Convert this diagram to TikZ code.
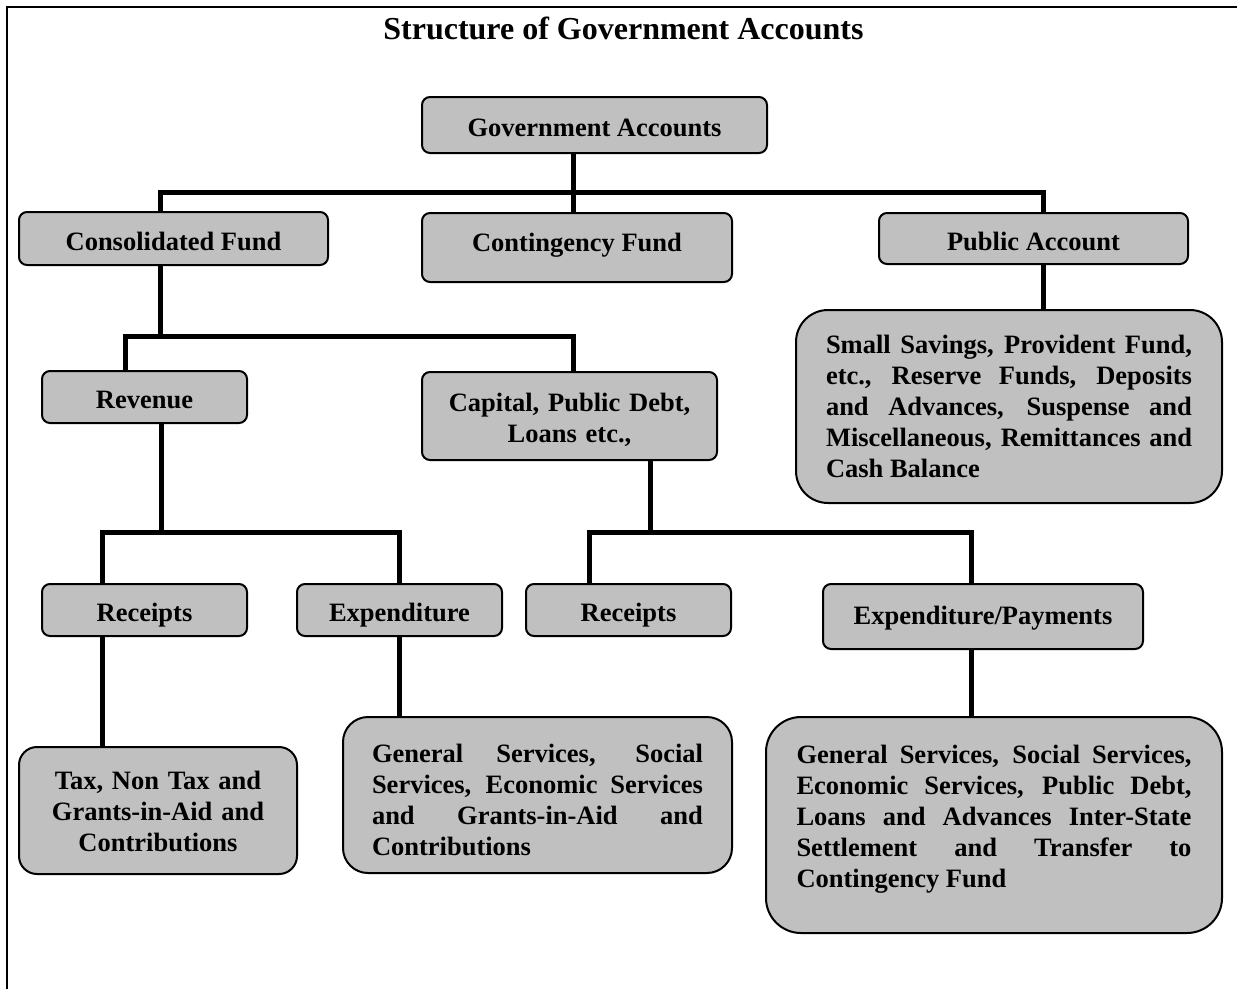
\documentclass[tikz,border=0pt]{standalone}
\usepackage{fontspec}
\setmainfont{Liberation Serif}
\definecolor{boxgray}{RGB}{192,192,192}
\newcommand\gabody{\fontsize{26.5}{31}\selectfont\bfseries\hyphenpenalty=10000\exhyphenpenalty=10000\tolerance=9999\emergencystretch=20pt}
\newcommand\gatitle{\fontsize{32}{38}\selectfont\bfseries}
\newcommand\gatop[1]{\hrule height 0pt width 0pt\vskip #1\relax}
\newcommand\gabot[1]{\par\vskip #1\hrule height 0pt width 0pt}
\tikzset{
  box/.style={draw=black, line width=2pt, fill=boxgray, rounded corners=8pt,
              font=\gabody, inner sep=0pt, align=center},
  oneline/.style={box, text height=24pt, text depth=1pt},
  bigbox/.style={box, align=justify},
  conn/.style={line width=5pt, line join=miter},
  frame/.style={line width=1.5pt},
}
\begin{document}
\begin{tikzpicture}[x=1pt, y=-1pt]
\useasboundingbox (0,0) rectangle (1237,989);
\draw[frame] (7,989) -- (7,7) -- (1237,7);
\node[font=\gatitle] (title) at (623.5,28) {Structure of Government Accounts};

% level 0 and 1
\node[oneline, minimum width=345pt, minimum height=56pt] (gov) at (594.5,125) {Government Accounts};
\node[oneline, minimum width=309pt, minimum height=53pt] (cons) at (173.5,238.5) {Consolidated Fund};
\node[oneline, text height=18pt, text depth=11pt, minimum width=310pt, minimum height=69pt] (cont) at (577,247.5) {Contingency Fund};
\node[oneline, minimum width=309pt, minimum height=51pt] (pub) at (1033.5,238.5) {Public Account};
\node[bigbox, rounded corners=32pt, text width=366pt, minimum width=426pt, minimum height=193pt] (pubd) at (1009,406.5)
  {Small Savings, Provident Fund,\linebreak etc., Reserve Funds, Deposits\linebreak and Advances, Suspense and\linebreak Miscellaneous, Remittances and\linebreak Cash Balance};

% level 2
\node[oneline, minimum width=205pt, minimum height=52pt] (rev) at (144.5,397) {Revenue};
\node[box, text width=280pt, minimum width=295pt, minimum height=88pt] (cap) at (569.5,416)
  {\gatop{7pt}Capital, Public Debt,\\Loans etc.,};

% level 3
\node[oneline, minimum width=205pt, minimum height=52pt] (rec1) at (144.5,610) {Receipts};
\node[oneline, minimum width=205pt, minimum height=52pt] (exp) at (399.5,610) {Expenditure};
\node[oneline, minimum width=205pt, minimum height=52pt] (rec2) at (628.5,610) {Receipts};
\node[oneline, text height=20pt, text depth=4.4pt, minimum width=320pt, minimum height=65pt] (expp) at (983,616.5) {Expenditure/Payments};

% level 4
\node[box, rounded corners=18pt, text width=260pt, minimum width=278pt, minimum height=127pt] (tax) at (158,810.5)
  {\gatop{2pt}Tax, Non Tax and\\Grants-in-Aid and\\Contributions};
\node[bigbox, rounded corners=25pt, text width=331pt, minimum width=389pt, minimum height=156pt] (gen1) at (537.5,795)
  {\gatop{9pt}General Services, Social\linebreak Services, Economic Services\linebreak and Grants-in-Aid and\linebreak Contributions};
\node[bigbox, rounded corners=35pt, text width=395pt, minimum width=456pt, minimum height=216pt] (gen2) at (994,825)
  {General Services, Social Services,\linebreak Economic Services, Public Debt,\linebreak Loans and Advances Inter-State\linebreak Settlement and Transfer to\linebreak Contingency Fund\gabot{12pt}};

% junction coordinates
\coordinate (b1) at (573,192);
\coordinate (b1l) at (160,192);
\coordinate (b1r) at (1043,192);
\coordinate (b2) at (160,336);
\coordinate (b2l) at (125,336);
\coordinate (b2r) at (573,336);
\coordinate (b3) at (161,532);
\coordinate (b3l) at (102,532);
\coordinate (b3r) at (399,532);
\coordinate (b4) at (650,532);
\coordinate (b4l) at (589,532);
\coordinate (b4r) at (971,532);

% connectors
\draw[conn] (gov.south -| b1) -- (cont.north -| b1);
\draw[conn] (cons.north -| b1l) -- (b1l) -- (b1r) -- (pub.north -| b1r);
\draw[conn] (pub.south -| b1r) -- (pubd.north -| b1r);

\draw[conn] (cons.south -| b2) -- (b2);
\draw[conn] (rev.north -| b2l) -- (b2l) -- (b2r) -- (cap.north -| b2r);

\draw[conn] (rev.south -| b3) -- (b3);
\draw[conn] (rec1.north -| b3l) -- (b3l) -- (b3r) -- (exp.north -| b3r);

\draw[conn] (cap.south -| b4) -- (b4);
\draw[conn] (rec2.north -| b4l) -- (b4l) -- (b4r) -- (expp.north -| b4r);

\draw[conn] (rec1.south -| b3l) -- (tax.north -| b3l);
\draw[conn] (exp.south -| b3r) -- (gen1.north -| b3r);
\draw[conn] (expp.south -| b4r) -- (gen2.north -| b4r);
\end{tikzpicture}
\end{document}
